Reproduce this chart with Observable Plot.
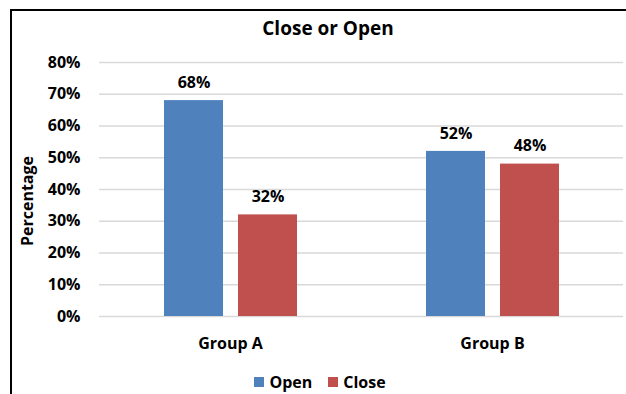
<!DOCTYPE html>
<html>
<head>
<meta charset="utf-8">
<script src="https://cdn.jsdelivr.net/npm/d3@7"></script>
<script src="https://cdn.jsdelivr.net/npm/@observablehq/plot@0.6"></script>
<style>
  html, body { margin: 0; padding: 0; background: #fff; overflow: hidden; }
  #wrap { position: relative; width: 626px; height: 394px; overflow: hidden; font-family: "Open Sans", sans-serif; font-weight: 700; color: #000; }
  #frame { position: absolute; left: 10px; top: 9px; width: 700px; height: 500px; border: 2px solid #000; box-sizing: border-box; }
  #title { position: absolute; left: 0; width: 656px; top: 15px; text-align: center; font-size: 19px; }
  #ylabel { position: absolute; left: 27px; top: 201px; transform: translate(-50%, -50%) rotate(-90deg); font-size: 16px; white-space: nowrap; }
  #chart { position: absolute; left: 0; top: 0; }
  #legend { position: absolute; left: 0; width: 626px; top: 371px; display: flex; justify-content: center; gap: 16px; font-size: 16px; padding-left: 14px; box-sizing: border-box; }
  .item { display: flex; align-items: center; gap: 5px; }
  .sw { width: 10px; height: 10px; display: inline-block; }
</style>
</head>
<body>
<div id="wrap">
  <div id="frame"></div>
  <div id="chart"></div>
  <div id="title"></div>
  <div id="ylabel"></div>
  <div id="legend"></div>
</div>
<script>
const title = "Close or Open";
const yLabel = "Percentage";
const groups = ["Group A", "Group B"];
const series = ["Open", "Close"];
const colors = ["#4F81BD", "#C0504D"];
const openValues = [68, 52];
const closeValues = [32, 48];
const yTicks = [0, 10, 20, 30, 40, 50, 60, 70, 80];

const data = [];
groups.forEach((g, i) => {
  data.push({group: g, series: "Open", value: openValues[i]});
  data.push({group: g, series: "Close", value: closeValues[i]});
});

document.getElementById("title").textContent = title;
document.getElementById("ylabel").textContent = yLabel;

const chart = Plot.plot({
  width: 626,
  height: 360,
  marginLeft: 99,
  marginRight: 3,
  marginTop: 62,
  marginBottom: 44,
  style: {fontFamily: "Open Sans, sans-serif", fontSize: "16px", fontWeight: "bold", color: "#000", background: "transparent", overflow: "visible"},
  fx: {domain: groups, padding: 0, label: null},
  x: {domain: series, paddingInner: 0.207, paddingOuter: 0.864, axis: null},
  y: {domain: [0, 80], label: null, axis: null},
  color: {domain: series, range: colors},
  marks: [
    Plot.ruleY(yTicks, {y: d => d, stroke: "#d9d9d9", strokeWidth: 1.5}),
    Plot.barY(data, {fx: "group", x: "series", y: "value", fill: "series"}),
    Plot.text(data, {fx: "group", x: "series", y: "value", text: d => d.value + "%", dy: -18, fontSize: 16, fontWeight: "bold", fill: "#000"}),
    Plot.axisY({ticks: yTicks, tickFormat: d => d + "%", tickSize: 0, tickPadding: 19, label: null, fontSize: 16, fontWeight: "bold"}),
    Plot.axisFx({anchor: "bottom", tickSize: 0, tickPadding: 21, label: null, fontSize: 16, fontWeight: "bold"})
  ]
});
document.getElementById("chart").appendChild(chart);

const legend = document.getElementById("legend");
series.forEach((s, i) => {
  const item = document.createElement("div");
  item.className = "item";
  const sw = document.createElement("span");
  sw.className = "sw";
  sw.style.background = colors[i];
  const label = document.createElement("span");
  label.textContent = s;
  item.appendChild(sw);
  item.appendChild(label);
  legend.appendChild(item);
});
</script>
</body>
</html>
